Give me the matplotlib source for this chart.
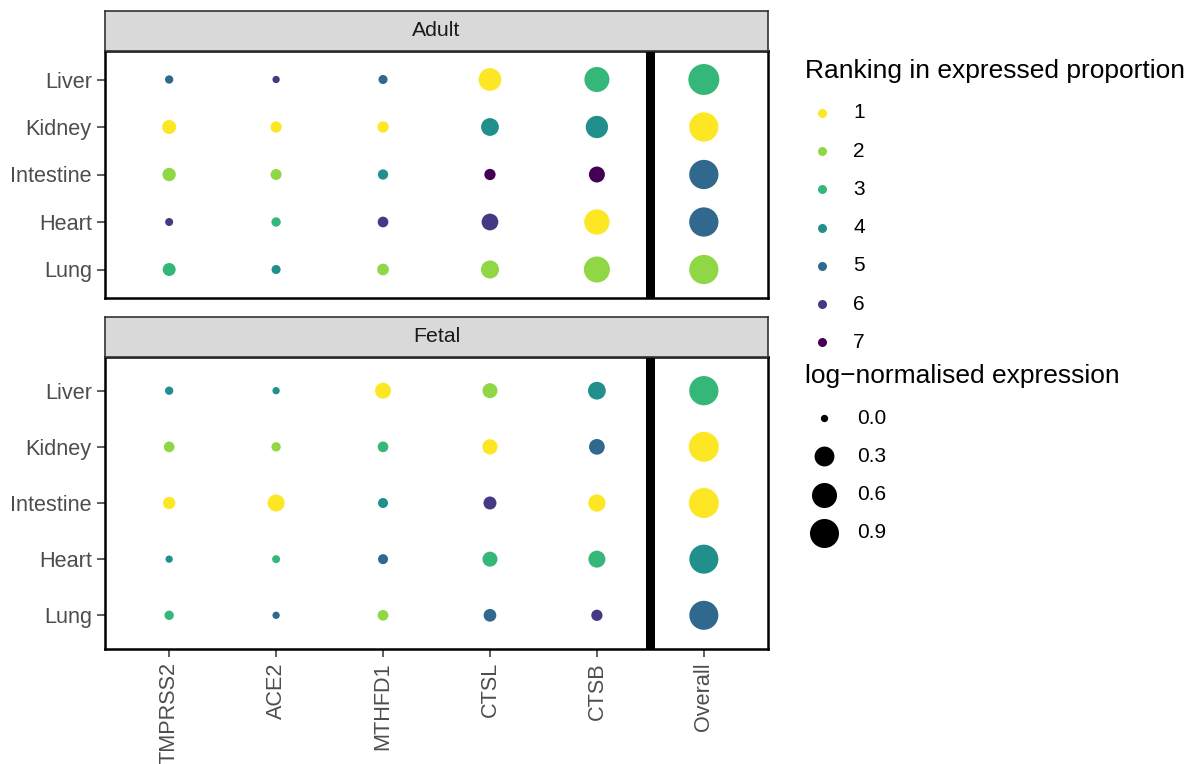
import numpy as np
import matplotlib.pyplot as plt

plt.rcParams['font.family'] = ['Liberation Sans', 'DejaVu Sans']

genes = ["TMPRSS2", "ACE2", "MTHFD1", "CTSL", "CTSB", "Overall"]
tissues = ["Liver", "Kidney", "Intestine", "Heart", "Lung"]

# ranking in expressed proportion, rows = tissues, cols = genes
adult_rank = [[5, 6, 5, 1, 3, 3],
              [1, 1, 1, 4, 4, 1],
              [2, 2, 4, 7, 7, 5],
              [6, 3, 6, 6, 1, 5],
              [3, 4, 2, 2, 2, 2]]
adult_expr = [[0.002, 0.000, 0.006, 0.45, 0.60, 1.07],
              [0.086, 0.030, 0.030, 0.21, 0.43, 0.92],
              [0.069, 0.026, 0.017, 0.03, 0.144, 0.92],
              [0.001, 0.008, 0.022, 0.17, 0.62, 0.92],
              [0.062, 0.006, 0.037, 0.22, 0.67, 0.92]]

fetal_rank = [[4, 4, 1, 2, 4, 3],
              [2, 2, 3, 1, 5, 1],
              [1, 1, 4, 6, 1, 1],
              [4, 3, 5, 3, 3, 4],
              [3, 5, 2, 5, 6, 5]]
fetal_expr = [[0.002, 0.000, 0.144, 0.113, 0.21, 0.92],
              [0.022, 0.008, 0.022, 0.122, 0.135, 0.98],
              [0.048, 0.180, 0.014, 0.062, 0.19, 0.98],
              [0.000, 0.001, 0.014, 0.113, 0.18, 0.90],
              [0.008, 0.000, 0.022, 0.056, 0.03, 0.90]]

rank_levels = [1, 2, 3, 4, 5, 6, 7]
rank_colors = ["#FDE725", "#8FD744", "#35B779", "#21908C",
               "#31688E", "#443A83", "#440154"]
size_breaks = [0.0, 0.3, 0.6, 0.9]

DPI = 100
W, H = 1192, 764


def dot_size(v):
    # area-style scale: diameter grows with sqrt of expression
    d_px = 7.3 + 22.9 * np.sqrt(np.clip(np.asarray(v, float), 0, None))
    return (d_px * 72 / DPI) ** 2


fig = plt.figure(figsize=(W / DPI, H / DPI), dpi=DPI)


def fx(px):
    return px / W


def fy(py):
    return 1 - py / H


def panel(top, bottom, strip_top, title, rank, expr, show_x):
    ax = fig.add_axes([fx(105), fy(bottom), fx(768) - fx(105), fy(top) - fy(bottom)])
    st = fig.add_axes([fx(105), fy(top), fx(768) - fx(105), fy(strip_top) - fy(top)])

    rank = np.array(rank)
    expr = np.array(expr)
    xs, ys = np.meshgrid(np.arange(len(genes)), np.arange(len(tissues)))
    cols = [rank_colors[rank_levels.index(r)] for r in rank.ravel()]
    ax.scatter(xs.ravel(), ys.ravel(), s=dot_size(expr.ravel()), c=cols,
               linewidths=0, zorder=3)
    ax.axvline(len(genes) - 1.5, color="black", lw=6.5, zorder=4)

    ax.set_xlim(-0.6, len(genes) - 0.4)
    ax.set_ylim(len(tissues) - 0.4, -0.6)
    ax.set_yticks(range(len(tissues)))
    ax.set_yticklabels(tissues)
    ax.set_xticks(range(len(genes)))
    ax.tick_params(axis="both", labelsize=15.6, labelcolor="#4D4D4D",
                   color="#333333", width=1.1, length=5.5, pad=4)
    if show_x:
        ax.set_xticklabels(genes, rotation=90, va="top", ha="center")
    else:
        ax.tick_params(axis="x", length=0, labelbottom=False)
    for s in ax.spines.values():
        s.set_linewidth(1.8)
        s.set_color("black")

    st.set_facecolor("#D9D9D9")
    st.set_xticks([])
    st.set_yticks([])
    for s in st.spines.values():
        s.set_linewidth(1.2)
        s.set_color("#333333")
    st.text(0.5, 0.5, title, ha="center", va="center", fontsize=15.3,
            color="#1A1A1A", transform=st.transAxes)
    return ax


panel(51, 298, 11, "Adult", adult_rank, adult_expr, False)
panel(357, 649, 317, "Fetal", fetal_rank, fetal_expr, True)

# legends drawn on an overlay in pixel coordinates
lg = fig.add_axes([0, 0, 1, 1])
lg.set_xlim(0, W)
lg.set_ylim(H, 0)
lg.axis("off")

lg.text(805, 71, "Ranking in expressed proportion", fontsize=19,
        va="center", ha="left", color="black")
for i, (r, c) in enumerate(zip(rank_levels, rank_colors)):
    y = 113 + i * 38.2
    lg.scatter([822], [y], s=(9 * 72 / DPI) ** 2, color=c, linewidths=0)
    lg.text(853, y, str(r), fontsize=15, va="center", ha="left", color="black")

lg.text(805, 376, "log\u2212normalised expression", fontsize=19,
        va="center", ha="left", color="black")
for i, b in enumerate(size_breaks):
    y = 418 + i * 38.3
    lg.scatter([824], [y], s=dot_size(b), color="black", linewidths=0)
    lg.text(857, y, f"{b:.1f}", fontsize=15, va="center", ha="left", color="black")

fig.savefig("out.png", dpi=DPI)
